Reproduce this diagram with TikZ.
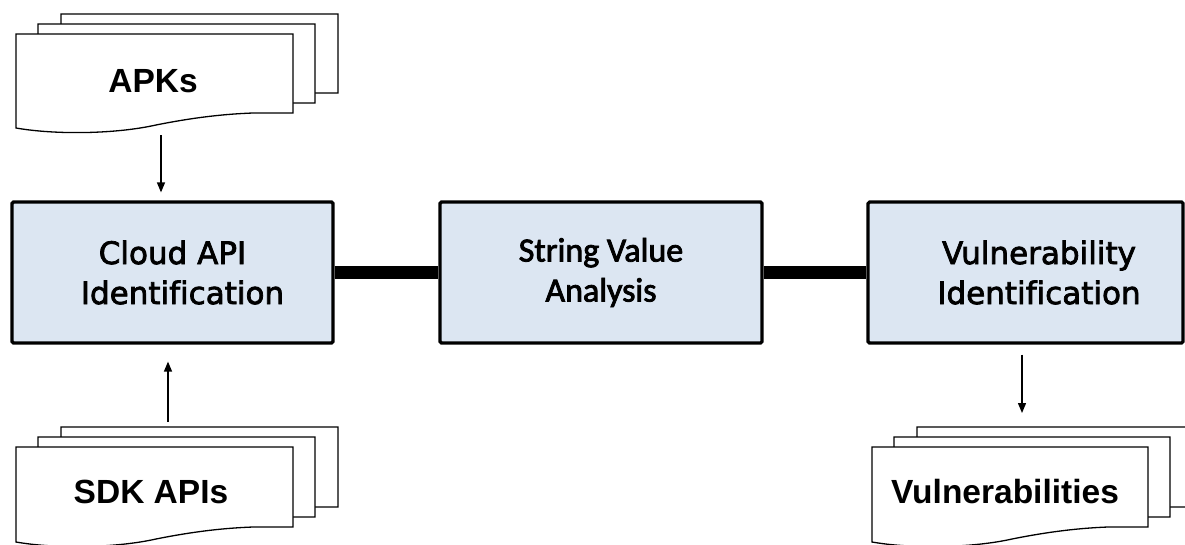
\documentclass[tikz,border=0pt]{standalone}
\usepackage{fontspec}
\newfontfamily\boxfont{DejaVu Sans}[FakeBold=2.4, Ligatures=NoCommon]
\newfontfamily\svfont{Carlito}[FakeBold=2.4]
\newfontfamily\docfont{Liberation Sans}
\usetikzlibrary{arrows.meta}
\definecolor{stagefill}{RGB}{220,230,242}

\tikzset{
  stage/.style={draw=black, line width=3.2pt, fill=stagefill, minimum height=141pt,
                align=center, inner sep=0pt, rounded corners=1.5pt},
  docsheet/.style={draw=black, line width=1.3pt, fill=white},
  doclabel/.style={font=\docfont\bfseries\fontsize{33.5}{38}\selectfont, anchor=base, inner sep=0pt},
  flow/.style={line width=1.3pt, -{Triangle[length=10pt,width=8pt]}},
  link/.style={line width=13pt},
}

% one sheet of a document stack: left, top, right, bottom of the left edge
\newcommand\docsheetpath[4]{%
  \path[docsheet] (#1,#2) -- (#3,#2) -- (#3,#4-15) -- (#3-40,#4-15)
    .. controls (#1+210,#4-14) and (#1+180,#4-11) .. (#1+140,#4-3)
    .. controls (#1+100,#4+6) and (#1+40,#4+7) .. (#1,#4) -- cycle;}
% three stacked sheets, back to front
\newcommand\docstack[4]{%
  \docsheetpath{#1+45}{#2-20}{#3+45}{#4-20}%
  \docsheetpath{#1+22}{#2-10}{#3+22}{#4-10}%
  \docsheetpath{#1}{#2}{#3}{#4}}

\begin{document}
\begin{tikzpicture}[x=1pt, y=-1pt]
  \useasboundingbox (0,0) rectangle (1185,544);
  \clip (0,0) rectangle (1185,544);

  % document stacks
  \docstack{16}{34}{293}{128}
  \docstack{16}{447}{293}{542}
  \docstack{872}{447}{1148}{542}

  \node[doclabel] (apks) at (153,92) {APKs};
  \node[doclabel] (sdk) at (151,503) {SDK APIs};
  \node[doclabel] (vulns) at (1005,503) {Vulnerabilities};

  % processing stages
  \node[stage, minimum width=321pt, font=\boxfont\fontsize{31}{40}\selectfont]
    (cloud) at (172.5,272.5) {Cloud API\\\hspace*{20pt}Identification};
  \node[stage, minimum width=322pt, font=\svfont\fontsize{34}{40}\selectfont]
    (strval) at (601,272.5) {String Value\\Analysis};
  \node[stage, minimum width=315pt, font=\boxfont\fontsize{31}{40}\selectfont]
    (vulnid) at (1025.5,272.5) {\hspace*{27pt}Vulnerability\\\hspace*{27pt}Identification};

  \draw[link] (cloud.east) -- (strval.west);
  \draw[link] (strval.east) -- (vulnid.west);

  % data flow arrows
  \coordinate (apkout) at (161,135);
  \draw[flow, shorten >=8pt] (apkout) -- (apkout |- cloud.north);
  \coordinate (sdkout) at (168,422);
  \draw[flow, shorten >=17pt] (sdkout) -- (sdkout |- cloud.south);
  \coordinate (vulnin) at (1022,413);
  \draw[flow, shorten <=10pt] (vulnin |- vulnid.south) -- (vulnin);
\end{tikzpicture}
\end{document}
